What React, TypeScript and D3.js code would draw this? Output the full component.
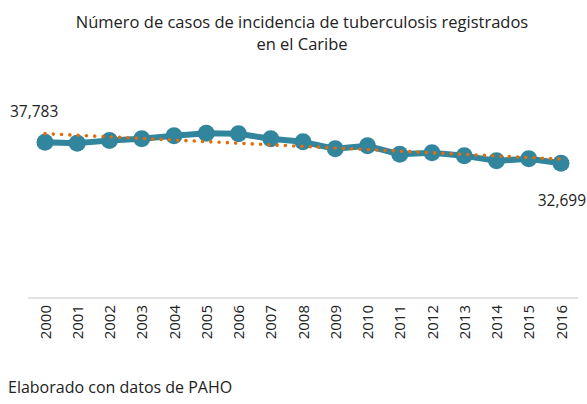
import React, {JSX} from "react";
import * as d3 from "d3";

const years = ["2000", "2001", "2002", "2003", "2004", "2005", "2006", "2007", "2008",
    "2009", "2010", "2011", "2012", "2013", "2014", "2015", "2016"];
const cases = [37783, 37590, 38220, 38640, 39370, 39970, 39850, 38640, 37910,
    36210, 36940, 34870, 35240, 34510, 33290, 33780, 32699];
const titleLines = ["Número de casos de incidencia de tuberculosis registrados", "en el Caribe"];
const footer = "Elaborado con datos de PAHO";

const App = (): JSX.Element => {
    const width = 587
    const height = 404
    const font = "'Open Sans', sans-serif"
    const x = d3.scalePoint<string>().domain(years).range([45, 561]);
    const y = d3.scaleLinear([0, 50000], [298, 92]);

    const line = d3.line<number>((d, i) => x(years[i]) as number, y);

    // linear trend line (least squares over the index)
    const n = cases.length
    const idx = d3.range(n)
    const mx = d3.mean(idx) as number
    const my = d3.mean(cases) as number
    const slope = d3.sum(idx, i => (i - mx) * (cases[i] - my)) / d3.sum(idx, i => (i - mx) ** 2)
    const intercept = my - slope * mx
    const trend = idx.map(i => intercept + slope * i)

    const first = cases[0]
    const last = cases[n - 1]

    return (
        <svg width={width} height={height} style={{position: "absolute", left: 0, top: 0}}>
            <rect width={width} height={height} fill="white"/>
            <text x={302} textAnchor="middle" fontFamily={font} fontSize={16.5} fill="#222">
                {titleLines.map((t, i) => (
                    <tspan key={i} x={302} y={28 + i * 22}>{t}</tspan>
                ))}
            </text>
            <line x1={28} x2={578} y1={y(0)} y2={y(0)} stroke="#d9d9d9" strokeWidth={1.5}/>
            {years.map(yr => (
                <text key={yr} transform={`translate(${(x(yr) as number) + 5.5},${y(0) + 7}) rotate(-90)`}
                      textAnchor="end" fontFamily={font} fontSize={15} fill="#222">{yr}</text>
            ))}
            <path d={line(cases) as string} fill="none" stroke="#31859c" strokeWidth={6}
                  strokeLinejoin="round"/>
            <g fill="#31859c">
                {cases.map((d, i) => (
                    <circle key={i} cx={x(years[i])} cy={y(d)} r={8.5}/>
                ))}
            </g>
            <path d={line(trend) as string} fill="none" stroke="#e36c0a" strokeWidth={3.6}
                  strokeLinecap="round" strokeDasharray="0 8.3"/>
            <text x={(x(years[0]) as number) - 35} y={y(first) - 25} fontFamily={font} fontSize={15.5}
                  fill="#222">{d3.format(",")(first)}</text>
            <text x={586} y={y(last) + 43} textAnchor="end" fontFamily={font} fontSize={15.5}
                  fill="#222">{d3.format(",")(last)}</text>
            <text x={8} y={393} fontFamily={font} fontSize={16} fill="#222">{footer}</text>
        </svg>
    )
}

export default App;
